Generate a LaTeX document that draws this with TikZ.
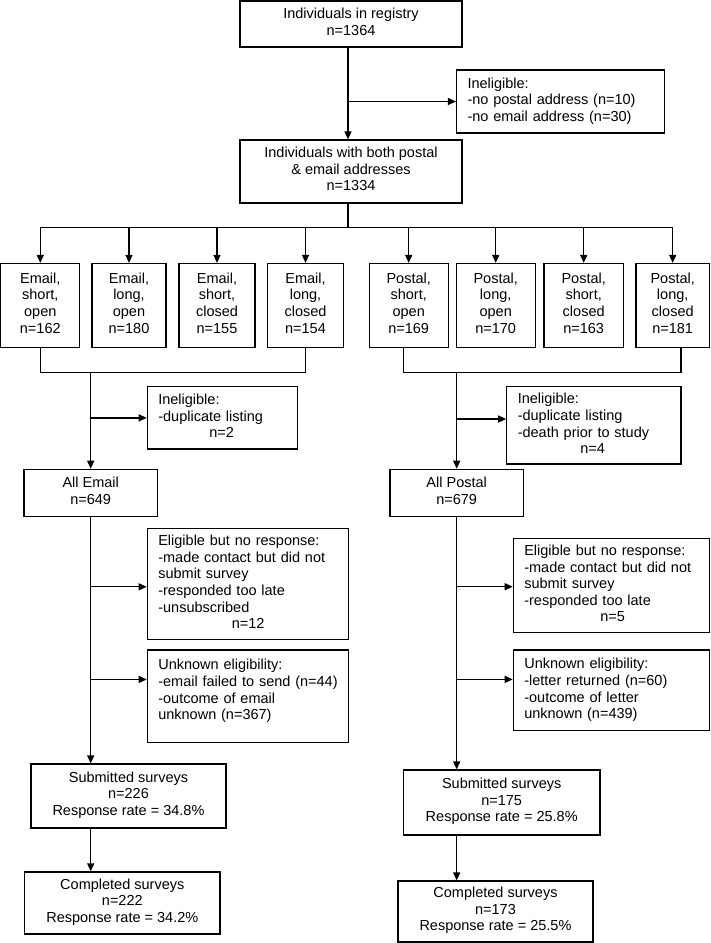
\documentclass[tikz,border=0pt]{standalone}
\usepackage{fontspec}
\setmainfont{Liberation Sans}
\usetikzlibrary{arrows.meta}
\begin{document}
\begin{tikzpicture}[x=1pt,y=-1pt,
  line width=1.2pt,
  every node/.style={font=\fontsize{14.5pt}{16.6pt}\selectfont},
  cbox/.style={draw, align=center, inner sep=2pt,
    execute at begin node=\strut, execute at end node=\strut},
  lbox/.style={draw, align=left, inner xsep=11pt, inner ysep=2pt,
    execute at begin node=\strut, execute at end node=\strut},
  arr/.style={-{Triangle[length=8pt,width=7pt]}}
]
\useasboundingbox (0,0) rectangle (710,943);

% top
\node[cbox, minimum width=222pt, minimum height=46pt] (T) at (351,24) {Individuals in registry\\n=1364};
\node[lbox, text width=186pt, minimum height=63pt] (I1) at (560.5,101.5) {Ineligible:\\-no postal address (n=10)\\-no email address (n=30)};
\node[cbox, minimum width=222pt, minimum height=63pt] (B2) at (351,171.5) {Individuals with both postal\\\& email addresses\\n=1334};

% eight groups
\node[cbox, minimum width=79pt, minimum height=84pt] (E1) at (40.3,305.5) {Email,\\short,\\open\\n=162};
\node[cbox, minimum width=74pt, minimum height=84pt] (E2) at (129,305.5) {Email,\\long,\\open\\n=180};
\node[cbox, minimum width=76pt, minimum height=84pt] (E3) at (217,305.5) {Email,\\short,\\closed\\n=155};
\node[cbox, minimum width=76pt, minimum height=84pt] (E4) at (305.5,305.5) {Email,\\long,\\closed\\n=154};
\node[cbox, minimum width=79pt, minimum height=84pt] (P1) at (408.7,305.5) {Postal,\\short,\\open\\n=169};
\node[cbox, minimum width=79pt, minimum height=84pt] (P2) at (495.7,305.5) {Postal,\\long,\\open\\n=170};
\node[cbox, minimum width=79.5pt, minimum height=84pt] (P3) at (583.7,305.5) {Postal,\\short,\\closed\\n=163};
\node[cbox, minimum width=73.5pt, minimum height=84pt] (P4) at (672.7,305.5) {Postal,\\long,\\closed\\n=181};

% ineligible after grouping
\node[lbox, text width=128.4pt, minimum height=62.3pt] (IE) at (222.5,417.9) {Ineligible:\\-duplicate listing\\\hspace*{51pt}n=2};
\node[lbox, text width=152.3pt, minimum height=77.3pt] (IP) at (593.9,425.4) {Ineligible:\\-duplicate listing\\-death prior to study\\\hspace*{62.5pt}n=4};

% all email / postal
\node[cbox, minimum width=133.3pt, minimum height=47.4pt] (AE) at (90.7,493) {All Email\\n=649};
\node[cbox, minimum width=133.3pt, minimum height=47.4pt] (AP) at (456.7,493) {All Postal\\n=679};

% non-response boxes
\node[lbox, text width=179pt, minimum height=111pt] (EE) at (247.8,583.8) {Eligible but no response:\\-made contact but did not\\submit survey\\-responded too late\\-unsubscribed\\\hspace*{73.5pt}n=12};
\node[lbox, text width=179pt, minimum height=92.7pt] (UE) at (247.8,696.4) {Unknown eligibility:\\\mbox{-email failed to send (n=44)}\\-outcome of email\\unknown (n=367)\rule[-15pt]{0pt}{1pt}};
\node[lbox, text width=174.2pt, minimum height=94pt] (EP) at (611.4,585.3) {Eligible but no response:\\-made contact but did not\\submit survey\\-responded too late\\\hspace*{76pt}n=5};
\node[lbox, text width=174.2pt, minimum height=80.7pt] (UP) at (611.4,690.4) {Unknown eligibility:\\-letter returned (n=60)\\-outcome of letter\\unknown (n=439)};

% results
\node[cbox, minimum width=195pt, minimum height=64pt] (SE) at (128.5,796) {Submitted surveys\\n=226\\Response rate = 34.8\%};
\node[cbox, minimum width=195.5pt, minimum height=62pt] (CE) at (122.3,903) {Completed surveys\\n=222\\Response rate = 34.2\%};
\node[cbox, minimum width=196.5pt, minimum height=65pt] (SP) at (501.7,802.5) {Submitted surveys\\n=175\\Response rate = 25.8\%};
\node[cbox, minimum width=195pt, minimum height=61pt] (CP) at (495.5,911.5) {Completed surveys\\n=173\\Response rate = 25.5\%};

% connectors: top
\coordinate (mx) at (348,0);
\draw[arr] (T.south -| mx) -- (B2.north -| mx);
\draw[arr] (mx |- I1.west) -- (I1.west);

% branching to eight groups
\coordinate (br) at (348,227.3);
\draw (B2.south -| mx) -- (br);
\draw (E1.north |- br) -- (P4.north |- br);
\foreach \n in {E1,E2,E3,E4,P1,P2,P3,P4}
  \draw[arr] (\n.north |- br) -- (\n.north);

% merging
\coordinate (eb) at (0,372.7);
\draw (E1.south) -- (E1.south |- eb) -- (E4.south |- eb) -- (E4.south);
\coordinate (p1b) at ([xshift=-5.5pt]P1.south);
\coordinate (p4b) at ([xshift=8.3pt]P4.south);
\draw (p1b) -- (p1b |- eb) -- (p4b |- eb) -- (p4b);
\draw[arr] (AE.north |- eb) -- (AE.north);
\draw[arr] (AP.north |- eb) -- (AP.north);
\draw[arr] (AE.north |- IE.west) -- (IE.west);
\coordinate (ipa) at ([yshift=6.4pt]IP.west);
\draw[arr] (AP.north |- ipa) -- (ipa);

% email column
\draw[arr] (AE.south) -- (AE.south |- SE.north);
\coordinate (eea) at ([yshift=-3pt]EE.west);
\draw[arr] (AE.south |- eea) -- (eea);
\coordinate (uea) at ([yshift=17pt]UE.west);
\draw[arr] (AE.south |- uea) -- (uea);
\draw[arr] (AE.south |- SE.south) -- (AE.south |- CE.north);

% postal column
\draw[arr] (AP.south) -- (AP.south |- SP.north);
\coordinate (epa) at ([yshift=-1.4pt]EP.west);
\draw[arr] (AP.south |- epa) -- (epa);
\coordinate (upa) at ([yshift=11pt]UP.west);
\draw[arr] (AP.south |- upa) -- (upa);
\draw[arr] (AP.south |- SP.south) -- (AP.south |- CP.north);
\end{tikzpicture}
\end{document}
